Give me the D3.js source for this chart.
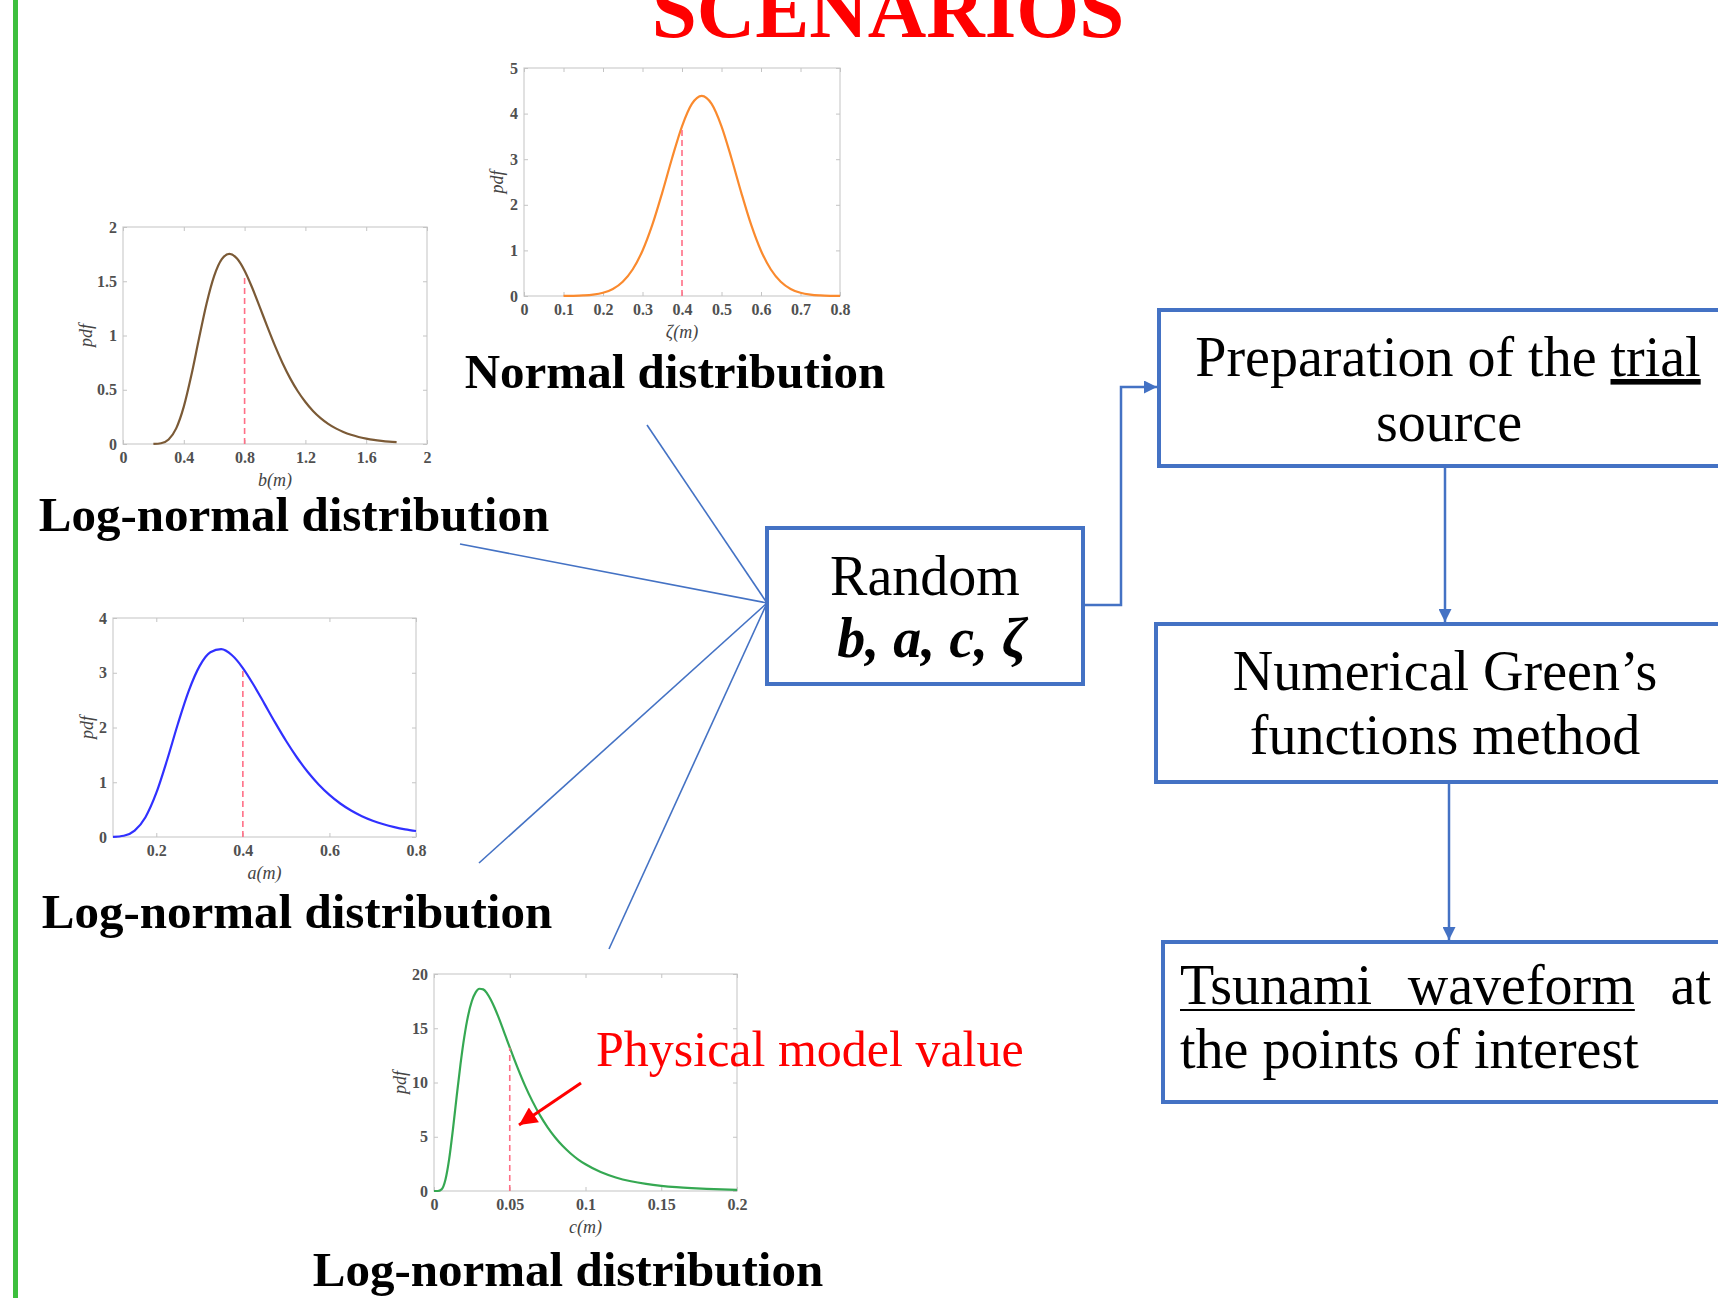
<!DOCTYPE html>
<html>
<head>
<meta charset="utf-8">
<script src="https://cdn.jsdelivr.net/npm/d3@7"></script>
<style>
  body { margin: 0; background: #fff; overflow: hidden; }
  svg { display: block; font-family: "Liberation Serif", "Times New Roman", serif; }
  .tick text { font-family: "Liberation Serif", serif; font-weight: bold; font-size: 16px; fill: #505050; }
  .tick line { stroke: #c4c4c4; }
</style>
</head>
<body>
<script>
// canvas size
var svgWidth = 1718;
var svgHeight = 1298;

// ---- data ----
// b(m), log-normal
var bX = [0.2, 0.25, 0.3, 0.35, 0.4, 0.45, 0.5, 0.55, 0.6, 0.65, 0.7, 0.75, 0.8, 0.85, 0.9, 0.95, 1.0,
  1.05, 1.1, 1.15, 1.2, 1.25, 1.3, 1.35, 1.4, 1.45, 1.5, 1.55, 1.6, 1.65, 1.7, 1.75, 1.8];
var bPdf = [0.0005, 0.007, 0.042, 0.144, 0.344, 0.635, 0.972, 1.295, 1.549, 1.703, 1.752, 1.709, 1.597,
  1.440, 1.262, 1.079, 0.904, 0.745, 0.605, 0.486, 0.387, 0.305, 0.239, 0.186, 0.144, 0.111, 0.085,
  0.065, 0.050, 0.038, 0.029, 0.022, 0.017];

// zeta(m), normal
var zetaX = [0.1, 0.125, 0.15, 0.175, 0.2, 0.225, 0.25, 0.275, 0.3, 0.325, 0.35, 0.375, 0.4, 0.425, 0.45,
  0.475, 0.5, 0.525, 0.55, 0.575, 0.6, 0.625, 0.65, 0.675, 0.7, 0.725, 0.75, 0.775, 0.8];
var zetaPdf = [0.001, 0.004, 0.012, 0.030, 0.071, 0.155, 0.313, 0.581, 0.993, 1.564, 2.268, 3.027, 3.722,
  4.213, 4.39, 4.213, 3.722, 3.027, 2.268, 1.564, 0.993, 0.581, 0.313, 0.155, 0.071, 0.030, 0.012, 0.004, 0.001];

// a(m), log-normal
var aX = [0.1, 0.125, 0.15, 0.175, 0.2, 0.225, 0.25, 0.275, 0.3, 0.325, 0.35, 0.375, 0.4, 0.425, 0.45,
  0.475, 0.5, 0.525, 0.55, 0.575, 0.6, 0.625, 0.65, 0.675, 0.7, 0.725, 0.75, 0.775, 0.8];
var aPdf = [0.002, 0.022, 0.116, 0.362, 0.804, 1.407, 2.069, 2.670, 3.121, 3.374, 3.430, 3.319, 3.086,
  2.776, 2.432, 2.084, 1.753, 1.452, 1.187, 0.960, 0.770, 0.612, 0.484, 0.380, 0.298, 0.233, 0.181, 0.140, 0.109];

// c(m), log-normal
var cX = [0, 0.0025, 0.005, 0.0075, 0.01, 0.0125, 0.015, 0.0175, 0.02, 0.0225, 0.025, 0.0275, 0.03, 0.0325,
  0.035, 0.0375, 0.04, 0.0425, 0.045, 0.0475, 0.05, 0.055, 0.06, 0.065, 0.07, 0.075, 0.08, 0.085, 0.09,
  0.095, 0.1, 0.11, 0.12, 0.13, 0.14, 0.15, 0.16, 0.17, 0.18, 0.19, 0.2];
var cPdf = [0, 0.002, 0.150, 1.012, 2.938, 5.69, 8.77, 11.70, 14.21, 16.16, 17.51, 18.31, 18.64, 18.58,
  18.22, 17.63, 16.89, 16.04, 15.12, 14.18, 13.24, 11.42, 9.74, 8.26, 6.97, 5.87, 4.93, 4.14, 3.48,
  2.92, 2.46, 1.75, 1.25, 0.90, 0.655, 0.479, 0.353, 0.263, 0.196, 0.148, 0.112];

// physical model value (red dashed line) and where it meets the curve
var physicalX = [0.8, 0.4, 0.4, 0.05];
var physicalPdf = [1.56, 3.66, 3.07, 13.2];

// tick values and labels
var bXTicks = [0, 0.4, 0.8, 1.2, 1.6, 2];
var bXLabels = ["0", "0.4", "0.8", "1.2", "1.6", "2"];
var bYTicks = [0, 0.5, 1, 1.5, 2];
var bYLabels = ["0", "0.5", "1", "1.5", "2"];
var zetaXTicks = [0, 0.1, 0.2, 0.3, 0.4, 0.5, 0.6, 0.7, 0.8];
var zetaXLabels = ["0", "0.1", "0.2", "0.3", "0.4", "0.5", "0.6", "0.7", "0.8"];
var zetaYTicks = [0, 1, 2, 3, 4, 5];
var zetaYLabels = ["0", "1", "2", "3", "4", "5"];
var aXTicks = [0.2, 0.4, 0.6, 0.8];
var aXLabels = ["0.2", "0.4", "0.6", "0.8"];
var aYTicks = [0, 1, 2, 3, 4];
var aYLabels = ["0", "1", "2", "3", "4"];
var cXTicks = [0, 0.05, 0.1, 0.15, 0.2];
var cXLabels = ["0", "0.05", "0.1", "0.15", "0.2"];
var cYTicks = [0, 5, 10, 15, 20];
var cYLabels = ["0", "5", "10", "15", "20"];

var blue = "#4472c4";

var svg = d3.select("body")
  .append("svg")
  .attr("width", svgWidth)
  .attr("height", svgHeight);

// arrow heads
var defs = svg.append("defs");
defs.append("marker")
  .attr("id", "blueHead")
  .attr("viewBox", "0 0 10 10")
  .attr("refX", 10).attr("refY", 5)
  .attr("markerUnits", "userSpaceOnUse")
  .attr("markerWidth", 13).attr("markerHeight", 13)
  .attr("orient", "auto")
  .append("path").attr("d", "M0,0 L10,5 L0,10 Z").attr("fill", blue);
defs.append("marker")
  .attr("id", "redHead")
  .attr("viewBox", "0 0 10 10")
  .attr("refX", 10).attr("refY", 5)
  .attr("markerUnits", "userSpaceOnUse")
  .attr("markerWidth", 20).attr("markerHeight", 18)
  .attr("orient", "auto")
  .append("path").attr("d", "M0,0 L10,5 L0,10 Z").attr("fill", "#ff0000");

// green bar at the left
svg.append("rect")
  .attr("x", 13).attr("y", 0)
  .attr("width", 5).attr("height", svgHeight)
  .attr("fill", "#3dbf3d");

// title, cut at the top like on the slide
svg.append("text")
  .attr("x", 888).attr("y", 37)
  .attr("text-anchor", "middle")
  .style("font-size", "81px")
  .style("font-weight", "bold")
  .style("fill", "#ff0000")
  .text("SCENARIOS");

// thin lines from each distribution to the Random box
var hub = [767, 603];
var spokes = [[647, 425], [460, 544], [479, 863], [609, 949]];
svg.selectAll(".spoke")
  .data(spokes)
  .enter()
  .append("line")
  .attr("class", "spoke")
  .attr("x1", d => d[0]).attr("y1", d => d[1])
  .attr("x2", hub[0]).attr("y2", hub[1])
  .attr("stroke", blue)
  .attr("stroke-width", 1.6);

// one small MATLAB-like pdf plot
function drawPlot(p) {
  var w = p.right - p.left;
  var h = p.bottom - p.top;
  var g = svg.append("g").attr("transform", `translate(${p.left}, ${p.top})`);

  var x = d3.scaleLinear().domain(p.xDomain).range([0, w]);
  var y = d3.scaleLinear().domain(p.yDomain).range([h, 0]);

  g.append("rect")
    .attr("width", w).attr("height", h)
    .attr("fill", "#fff")
    .attr("stroke", "#d2d2d2")
    .attr("stroke-width", 1.3);

  var bottom = g.append("g")
    .attr("transform", `translate(0, ${h})`)
    .call(d3.axisBottom(x).tickValues(p.xTicks).tickFormat((d, i) => p.xLabels[i]).tickSizeInner(-4).tickSizeOuter(0).tickPadding(8));
  var top = g.append("g")
    .call(d3.axisTop(x).tickValues(p.xTicks).tickFormat("").tickSizeInner(-4).tickSizeOuter(0));
  var left = g.append("g")
    .call(d3.axisLeft(y).tickValues(p.yTicks).tickFormat((d, i) => p.yLabels[i]).tickSizeInner(-4).tickSizeOuter(0).tickPadding(6));
  var right = g.append("g")
    .attr("transform", `translate(${w}, 0)`)
    .call(d3.axisRight(y).tickValues(p.yTicks).tickFormat("").tickSizeInner(-4).tickSizeOuter(0));
  [bottom, top, left, right].forEach(a => a.select(".domain").remove());

  // the pdf curve
  var line = d3.line()
    .x((d, i) => x(p.xs[i]))
    .y(d => y(d))
    .curve(d3.curveMonotoneX);
  g.append("path")
    .datum(p.ys)
    .attr("d", line)
    .attr("fill", "none")
    .attr("stroke", p.color)
    .attr("stroke-width", 2.2);

  // physical model value
  g.append("line")
    .attr("x1", x(p.markX)).attr("x2", x(p.markX))
    .attr("y1", y(0)).attr("y2", y(p.markY))
    .attr("stroke", "#ff6f86")
    .attr("stroke-width", 1.6)
    .attr("stroke-dasharray", "6,4");

  // axis titles
  g.append("text")
    .attr("x", w / 2).attr("y", h + 42)
    .attr("text-anchor", "middle")
    .style("font-style", "italic")
    .style("font-size", "18px")
    .style("fill", "#444")
    .text(p.xTitle);
  g.append("text")
    .attr("transform", `translate(${-p.yTitleOffset}, ${h / 2}) rotate(-90)`)
    .attr("text-anchor", "middle")
    .attr("dy", "0.35em")
    .style("font-style", "italic")
    .style("font-size", "18px")
    .style("fill", "#444")
    .text("pdf");
}

drawPlot({ left: 123, right: 427, top: 227, bottom: 444, xDomain: [0, 2], yDomain: [0, 2],
  xTicks: bXTicks, xLabels: bXLabels, yTicks: bYTicks, yLabels: bYLabels,
  xs: bX, ys: bPdf, color: "#7b5a36", markX: physicalX[0], markY: physicalPdf[0],
  xTitle: "b(m)", yTitleOffset: 37 });
drawPlot({ left: 524, right: 840, top: 68, bottom: 296, xDomain: [0, 0.8], yDomain: [0, 5],
  xTicks: zetaXTicks, xLabels: zetaXLabels, yTicks: zetaYTicks, yLabels: zetaYLabels,
  xs: zetaX, ys: zetaPdf, color: "#fa8a2e", markX: physicalX[1], markY: physicalPdf[1],
  xTitle: "ζ(m)", yTitleOffset: 27 });
drawPlot({ left: 113, right: 416, top: 618, bottom: 837, xDomain: [0.1, 0.8], yDomain: [0, 4],
  xTicks: aXTicks, xLabels: aXLabels, yTicks: aYTicks, yLabels: aYLabels,
  xs: aX, ys: aPdf, color: "#3030ff", markX: physicalX[2], markY: physicalPdf[2],
  xTitle: "a(m)", yTitleOffset: 26 });
drawPlot({ left: 434, right: 737, top: 974, bottom: 1191, xDomain: [0, 0.2], yDomain: [0, 20],
  xTicks: cXTicks, xLabels: cXLabels, yTicks: cYTicks, yLabels: cYLabels,
  xs: cX, ys: cPdf, color: "#35a852", markX: physicalX[3], markY: physicalPdf[3],
  xTitle: "c(m)", yTitleOffset: 34 });

// distribution names
var distLabels = [
  { text: "Normal distribution", x: 675, y: 388 },
  { text: "Log-normal distribution", x: 294, y: 531 },
  { text: "Log-normal distribution", x: 297, y: 928 },
  { text: "Log-normal distribution", x: 568, y: 1286 }
];
svg.selectAll(".distLabel")
  .data(distLabels)
  .enter()
  .append("text")
  .attr("class", "distLabel")
  .attr("x", d => d.x).attr("y", d => d.y)
  .attr("text-anchor", "middle")
  .style("font-size", "49px")
  .style("font-weight", "bold")
  .style("fill", "#000")
  .text(d => d.text);

// red annotation
svg.append("text")
  .attr("x", 596).attr("y", 1066)
  .style("font-size", "50px")
  .style("fill", "#ff0000")
  .text("Physical model value");
svg.append("line")
  .attr("x1", 581).attr("y1", 1083)
  .attr("x2", 519).attr("y2", 1125)
  .attr("stroke", "#ff0000")
  .attr("stroke-width", 3)
  .attr("marker-end", "url(#redHead)");

// flow boxes
var boxes = [
  { x: 767, y: 528, w: 316, h: 156 },
  { x: 1159, y: 310, w: 620, h: 156 },
  { x: 1156, y: 624, w: 620, h: 158 },
  { x: 1163, y: 942, w: 620, h: 160 }
];
svg.selectAll(".box")
  .data(boxes)
  .enter()
  .append("rect")
  .attr("class", "box")
  .attr("x", d => d.x).attr("y", d => d.y)
  .attr("width", d => d.w).attr("height", d => d.h)
  .attr("fill", "none")
  .attr("stroke", blue)
  .attr("stroke-width", 4);

// connectors
svg.append("path")
  .attr("d", "M1085,605 H1121 V387 H1157")
  .attr("fill", "none")
  .attr("stroke", blue)
  .attr("stroke-width", 2.5)
  .attr("marker-end", "url(#blueHead)");
svg.append("line")
  .attr("x1", 1445).attr("y1", 468).attr("x2", 1445).attr("y2", 622)
  .attr("stroke", blue).attr("stroke-width", 2.5)
  .attr("marker-end", "url(#blueHead)");
svg.append("line")
  .attr("x1", 1449).attr("y1", 784).attr("x2", 1449).attr("y2", 940)
  .attr("stroke", blue).attr("stroke-width", 2.5)
  .attr("marker-end", "url(#blueHead)");

// box texts
function boxText(x, y, anchor) {
  return svg.append("text")
    .attr("x", x).attr("y", y)
    .attr("text-anchor", anchor)
    .style("font-size", "56px")
    .style("fill", "#000");
}

boxText(925, 595, "middle").text("Random");
boxText(932, 657, "middle")
  .style("font-weight", "bold")
  .style("font-style", "italic")
  .text("b, a, c, ζ");

var prep = boxText(1448, 376, "middle");
prep.append("tspan").text("Preparation of the ");
prep.append("tspan").style("text-decoration", "underline").text("trial");
boxText(1449, 441, "middle").text("source");

boxText(1445, 690, "middle").text("Numerical Green’s");
boxText(1445, 754, "middle").text("functions method");

// justified first line of the last box
var t1 = boxText(1180, 1004, "start").text("Tsunami");
var t3 = boxText(1711, 1004, "end").text("at");
var t2 = boxText(0, 1004, "start").text("waveform");
var w1 = t1.node().getComputedTextLength();
var w2 = t2.node().getComputedTextLength();
var w3 = t3.node().getComputedTextLength();
var gap = (1711 - 1180 - w1 - w2 - w3) / 2;
t2.attr("x", 1180 + w1 + gap);
svg.append("line")
  .attr("x1", 1180).attr("x2", 1180 + w1 + gap + w2)
  .attr("y1", 1010).attr("y2", 1010)
  .attr("stroke", "#000").attr("stroke-width", 2);
boxText(1180, 1068, "start").text("the points of interest");
</script>
</body>
</html>
